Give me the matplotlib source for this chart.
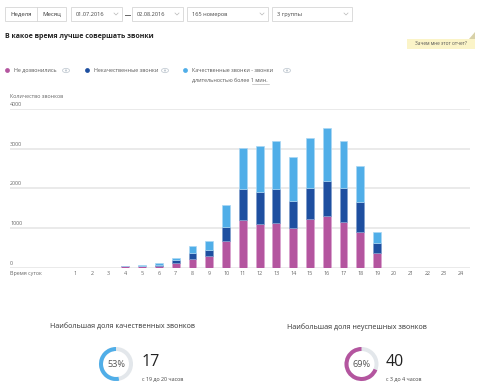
import matplotlib
matplotlib.use("Agg")
import matplotlib.pyplot as plt
from matplotlib.patches import Rectangle, Wedge, Circle, Ellipse, Polygon
from matplotlib.transforms import blended_transform_factory, offset_copy

plt.rcParams['font.family'] = ['Open Sans', 'DejaVu Sans']

# ---------------- data ----------------
hours = list(range(1, 25))
not_reached = [0, 0, 0, 28, 35, 45, 110, 215, 290, 660, 1200, 1095, 1130, 995, 1230, 1310, 1150, 905, 355, 0, 0, 0, 0, 0]
bad_calls = [0, 0, 0, 4, 10, 30, 70, 140, 140, 360, 780, 820, 840, 695, 770, 880, 860, 755, 275, 0, 0, 0, 0, 0]
good_calls = [0, 0, 0, 8, 15, 50, 60, 195, 240, 545, 1030, 1150, 1220, 1110, 1270, 1330, 1170, 910, 275, 0, 0, 0, 0, 0]
y_ticks = [0, 1000, 2000, 3000, 4000]
series_names = ["Не дозвонились", "Некачественные звонки", "Качественные звонки - звонки\nдлительностью более 1 мин."]

kpi_titles = ["Наибольшая доля качественных звонков", "Наибольшая доля неуспешных звонков"]
kpi_pct = [53, 69]
kpi_values = ["17", "40"]
kpi_sub = ["с 19 до 20 часов", "с 3 до 4 часов"]

controls = ["Неделя", "Месяц", "01.07.2016", "02.08.2016", "165 номеров", "3 группы"]

# ---------------- style ----------------
PINK = '#b4559f'
DARK = '#1e4fa0'
LIGHT = '#50aee8'
PINK_E = '#d9a3cf'
DARK_E = '#7e9ccc'
LIGHT_E = '#a9d6f3'
GRID = '#e4e4e4'
TXT = '#666666'

W, H = 480, 390
fig = plt.figure(figsize=(W / 100, H / 100), dpi=100)
fig.patch.set_facecolor('white')

ov = fig.add_axes([0, 0, 1, 1])
ov.set_xlim(0, W)
ov.set_ylim(H, 0)
ov.axis('off')

# ----- top controls -----
box_c = '#d6d6d6'
ov.add_patch(Rectangle((5, 7), 61, 14, fill=False, ec=box_c, lw=0.6))
ov.plot([37, 37], [7, 21], color=box_c, lw=0.6)
ov.text(21, 14.5, controls[0], fontsize=4.3, color='#333', ha='center', va='center')
ov.text(51.5, 14.5, controls[1], fontsize=4.3, color='#333', ha='center', va='center')

def chevron(x, y):
    ov.plot([x - 2, x, x + 2], [y - 1, y + 1, y - 1], color='#b8b8b8', lw=0.5)

boxes = [(71, 122, controls[2]), (132, 183, controls[3]), (187, 268, controls[4]), (272, 352, controls[5])]
for (x0, x1, label) in boxes:
    ov.add_patch(Rectangle((x0, 7), x1 - x0, 14, fill=False, ec=box_c, lw=0.6))
    ov.text(x0 + 5, 14.5, label, fontsize=4.1, color='#444', ha='left', va='center')
    chevron(x1 - 6, 14)
ov.plot([124.5, 129.5], [14.5, 14.5], color='#666', lw=0.7)

# title
ov.text(5, 36, "В какое время лучше совершать звонки", fontsize=5.0, fontweight='bold',
        color='#222', ha='left', va='center')

# tooltip box
ov.add_patch(Rectangle((407, 39), 68, 9.5, fc='#fbf4c8', ec='none'))
ov.add_patch(Polygon([(469, 38.5), (475, 38.5), (475, 31.5)], closed=True, fc='#d8d1a8', ec='none'))
ov.text(441, 43.8, "Зачем мне этот отчет?", fontsize=3.4, color='#555', ha='center', va='center')

# ----- legend -----
def eye(x, y):
    ov.add_patch(Ellipse((x, y), 7, 4.2, fill=False, ec='#c4ccd4', lw=0.6))
    ov.add_patch(Circle((x, y), 1.1, fc='#c4ccd4', ec='none'))

leg = [(7.5, 14, 66, PINK), (87.5, 93.5, 165, DARK), (185.5, 192, 287, LIGHT)]
for (dx, tx, ex, col), name in zip(leg, series_names):
    ov.add_patch(Circle((dx, 70.5), 2.4, fc=col, ec='none'))
    for j, line in enumerate(name.split("\n")):
        ov.text(tx, 70.5 + 10 * j, line, fontsize=3.9, color='#555', ha='left', va='center')
    eye(ex, 70.5)
ov.plot([251.5, 268.5], [83.6, 83.6], color='#aaaaaa', lw=0.4)

ov.text(10, 96.5, "Количество звонков", fontsize=3.9, color=TXT, ha='left', va='center')

# ----- chart axes -----
x_left_px, x_right_px = 10, 470
y0_px, y4000_px = 267.5, 109.0
ax = fig.add_axes([x_left_px / W, 1 - y0_px / H, (x_right_px - x_left_px) / W, (y0_px - y4000_px) / H])
ax.set_facecolor('none')
step = 16.78
ax.set_xlim(1 - (75 - x_left_px) / step, 24 + (x_right_px - 461) / step)
ax.set_ylim(0, 4000)
for s in ax.spines.values():
    s.set_visible(False)
for v in y_ticks:
    ax.axhline(v, color=GRID, lw=1.1, zorder=0)

bw = 0.47
ax.bar(hours, not_reached, width=bw, color=PINK, edgecolor=PINK_E, linewidth=0.5, zorder=2)
bottom2 = [a for a in not_reached]
ax.bar(hours, bad_calls, width=bw, bottom=bottom2, color=DARK, edgecolor=DARK_E, linewidth=0.5, zorder=2)
bottom3 = [a + b for a, b in zip(not_reached, bad_calls)]
ax.bar(hours, good_calls, width=bw, bottom=bottom3, color=LIGHT, edgecolor=LIGHT_E, linewidth=0.5, zorder=2)

ax.set_xticks(hours)
ax.set_xticklabels([str(h) for h in hours], fontsize=3.9, color=TXT)
ax.tick_params(axis='x', length=0, pad=2.2)
ax.set_yticks([])

tr = offset_copy(blended_transform_factory(ax.transAxes, ax.transData), fig=fig, x=0, y=1.3, units='points')
for v in y_ticks:
    ax.text(0, v, str(v), transform=tr, fontsize=3.9, color=TXT, ha='left', va='bottom')
trx = offset_copy(ax.transAxes, fig=fig, x=0, y=-2.2, units='points')
ax.text(0, 0, "Время суток", transform=trx, fontsize=3.9, color=TXT, ha='left', va='top')

# ----- KPI blocks -----
kpi_cx = [122, 357]
donut_cx = [116, 361.5]
val_x = [141.5, 385.5]
kpi_col = [LIGHT, PINK]
for i in range(2):
    ov.text(kpi_cx[i], 327.5, kpi_titles[i], fontsize=5.1, color='#333', ha='center', va='center')
    cx, cy, r = donut_cx[i], 364, 17
    ov.add_patch(Wedge((cx, cy), r, 0, 360, width=4, fc='#e3e7eb', ec='none'))
    p = kpi_pct[i] / 100.0
    ov.add_patch(Wedge((cx, cy), r, 270 - 360 * p, 270, width=4, fc=kpi_col[i], ec='none'))
    ov.text(cx, cy + 0.5, f"{kpi_pct[i]}%", fontsize=6.6, color='#555', ha='center', va='center')
    ov.text(val_x[i], 361.5, kpi_values[i], fontsize=11.5, color='#222', ha='left', va='center')
    ov.text(val_x[i], 379.5, kpi_sub[i], fontsize=3.9, color='#444', ha='left', va='center')

fig.savefig('out.png', dpi=100, facecolor='white')
